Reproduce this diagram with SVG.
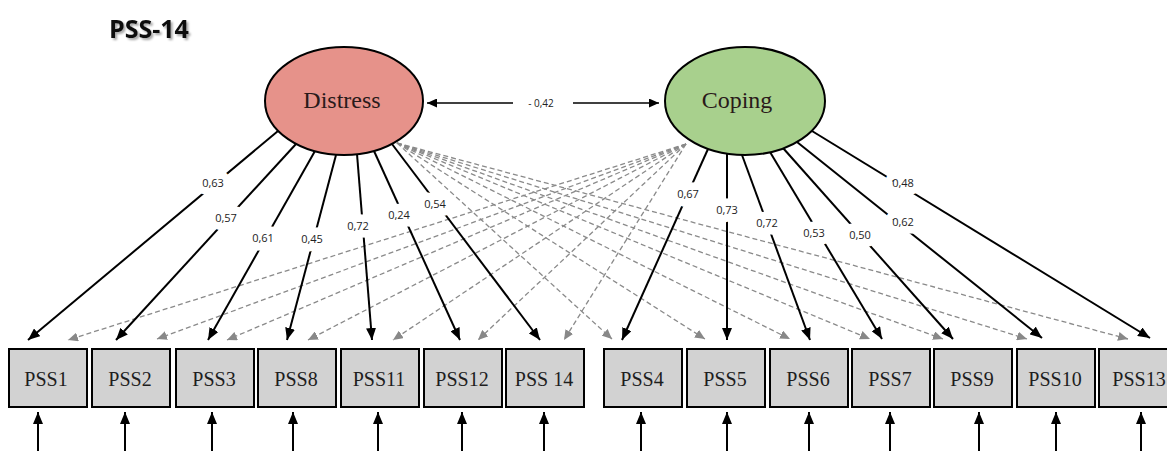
<svg xmlns="http://www.w3.org/2000/svg" width="1167" height="451" viewBox="0 0 1167 451">
  <defs>
    <marker id="ah" markerUnits="userSpaceOnUse" markerWidth="13" markerHeight="10" refX="12" refY="5" orient="auto">
      <path d="M0,0 L12,5 L0,10 z" fill="#000"/>
    </marker>
    <marker id="ahg" markerUnits="userSpaceOnUse" markerWidth="11" markerHeight="9" refX="10" refY="4.5" orient="auto">
      <path d="M0,0 L10,4.5 L0,9 z" fill="#888"/>
    </marker>
    <marker id="ahs" markerUnits="userSpaceOnUse" markerWidth="11" markerHeight="9" refX="10" refY="4.5" orient="auto">
      <path d="M0,0 L10,4.5 L0,9 z" fill="#000"/>
    </marker>
    <filter id="shadow" x="-20%" y="-30%" width="150%" height="170%">
      <feDropShadow dx="2" dy="2" stdDeviation="1" flood-color="#000" flood-opacity="0.35"/>
    </filter>
  </defs>
  <style>
    .load { stroke: #000; stroke-width: 2; fill: none; marker-end: url(#ah); }
    .cross { stroke: #8a8a8a; stroke-width: 1.3; stroke-dasharray: 5 3; fill: none; marker-end: url(#ahg); }
    .err { stroke: #000; stroke-width: 2; fill: none; marker-end: url(#ah); }
    .lbl { font-family: "Open Sans", "Liberation Sans", sans-serif; font-size: 11px; fill: #222; text-anchor: middle; stroke: #fff; stroke-width: 15; stroke-linejoin: round; paint-order: stroke; }
    .box rect { fill: #d2d2d2; stroke: #000; stroke-width: 2; }
    .box text { font-family: "Liberation Serif", "Times New Roman", serif; font-size: 20px; fill: #1e1e1e; text-anchor: middle; }
    .lat text { font-family: "Liberation Serif", "Times New Roman", serif; font-size: 24px; fill: #2a1a1a; text-anchor: middle; }
    .lat ellipse { stroke: #000; stroke-width: 2; }
  </style>

  <rect width="1167" height="451" fill="#fff"/>

  <text x="109" y="38" font-family="'Open Sans', 'Liberation Sans', sans-serif" font-weight="bold" font-size="25" fill="#111" filter="url(#shadow)">PSS-14</text>

  <!-- connectors -->
  <g id="connectors">
    <!-- cross loadings (dashed): Distress -> right items -->
    <path class="cross" d="M397,143 L612,339"/>
    <path class="cross" d="M397,143 L705,339"/>
    <path class="cross" d="M397,143 L790,339"/>
    <path class="cross" d="M397,143 L870,339"/>
    <path class="cross" d="M397,143 L943,339"/>
    <path class="cross" d="M397,143 L1027,339"/>
    <path class="cross" d="M397,143 L1128,339"/>
    <!-- cross loadings (dashed): Coping -> left items -->
    <path class="cross" d="M686,144 L68,340"/>
    <path class="cross" d="M686,144 L157,339"/>
    <path class="cross" d="M686,144 L227,340"/>
    <path class="cross" d="M686,144 L308,340"/>
    <path class="cross" d="M686,144 L393,340"/>
    <path class="cross" d="M686,144 L478,340"/>
    <path class="cross" d="M686,144 L564,340"/>

    <!-- Distress loadings -->
    <path class="load" d="M278,131 L28,340"/>
    <path class="load" d="M296,144 L116,340"/>
    <path class="load" d="M315,151 L208,340"/>
    <path class="load" d="M336,155 L287,340"/>
    <path class="load" d="M357,154 L372,340"/>
    <path class="load" d="M374,151 L460,340"/>
    <path class="load" d="M392,144 L540,340"/>

    <!-- Coping loadings -->
    <path class="load" d="M708,149 L622,340"/>
    <path class="load" d="M727,154 L727,340"/>
    <path class="load" d="M742,155 L810,340"/>
    <path class="load" d="M770,152 L882,339"/>
    <path class="load" d="M783,148 L953,339"/>
    <path class="load" d="M797,142 L1042,338"/>
    <path class="load" d="M812,131 L1150,338"/>

    <!-- covariance between the two factors -->
    <path d="M513,103 L427,103" stroke="#000" stroke-width="1.5" fill="none" marker-end="url(#ahs)"/>
    <path d="M573,103 L659,103" stroke="#000" stroke-width="1.5" fill="none" marker-end="url(#ahs)"/>
    <text x="541" y="103" dy="0.35em" font-family="'Open Sans', 'Liberation Sans', sans-serif" font-size="10" fill="#222" text-anchor="middle">- 0,42</text>

    <!-- loading labels -->
    <text class="lbl" x="213" y="183" dy="0.35em">0,63</text>
    <text class="lbl" x="226" y="218" dy="0.35em">0,57</text>
    <text class="lbl" x="263" y="238" dy="0.35em">0,61</text>
    <text class="lbl" x="312" y="239" dy="0.35em">0,45</text>
    <text class="lbl" x="358" y="226" dy="0.35em">0,72</text>
    <text class="lbl" x="399" y="215" dy="0.35em">0,24</text>
    <text class="lbl" x="435" y="204" dy="0.35em">0,54</text>
    <text class="lbl" x="688" y="194" dy="0.35em">0,67</text>
    <text class="lbl" x="727" y="210" dy="0.35em">0,73</text>
    <text class="lbl" x="767" y="223" dy="0.35em">0,72</text>
    <text class="lbl" x="814" y="233" dy="0.35em">0,53</text>
    <text class="lbl" x="860" y="235" dy="0.35em">0,50</text>
    <text class="lbl" x="903" y="222" dy="0.35em">0,62</text>
    <text class="lbl" x="903" y="183" dy="0.35em">0,48</text>

    <!-- error terms -->
    <path class="err" d="M38,451 L38,412"/>
    <path class="err" d="M125,451 L125,412"/>
    <path class="err" d="M212,451 L212,412"/>
    <path class="err" d="M293,451 L293,412"/>
    <path class="err" d="M378,451 L378,412"/>
    <path class="err" d="M462,451 L462,412"/>
    <path class="err" d="M544,451 L544,412"/>
    <path class="err" d="M641,451 L641,412"/>
    <path class="err" d="M727,451 L727,412"/>
    <path class="err" d="M809,451 L809,412"/>
    <path class="err" d="M890,451 L890,412"/>
    <path class="err" d="M979,451 L979,412"/>
    <path class="err" d="M1056,451 L1056,412"/>
    <path class="err" d="M1141,451 L1141,412"/>
  </g>

  <!-- latent factors -->
  <g id="distress" class="lat">
    <ellipse cx="344" cy="101" rx="79" ry="54" fill="#e6928a"/>
    <text x="342" y="108">Distress</text>
  </g>
  <g id="coping" class="lat">
    <ellipse cx="745" cy="101" rx="80" ry="54" fill="#a8d08d"/>
    <text x="737" y="108">Coping</text>
  </g>

  <!-- observed items -->
  <g id="pss1" class="box"><rect x="9" y="349" width="78" height="58"/><text x="46" y="386">PSS1</text></g>
  <g id="pss2" class="box"><rect x="92" y="349" width="78" height="58"/><text x="130" y="386">PSS2</text></g>
  <g id="pss3" class="box"><rect x="176" y="349" width="78" height="58"/><text x="214" y="386">PSS3</text></g>
  <g id="pss8" class="box"><rect x="258" y="349" width="78" height="58"/><text x="296" y="386">PSS8</text></g>
  <g id="pss11" class="box"><rect x="341" y="349" width="78" height="58"/><text x="379" y="386">PSS11</text></g>
  <g id="pss12" class="box"><rect x="424" y="349" width="78" height="58"/><text x="462" y="386">PSS12</text></g>
  <g id="pss14" class="box"><rect x="506" y="349" width="78" height="58"/><text x="544" y="386">PSS 14</text></g>
  <g id="pss4" class="box"><rect x="604" y="349" width="78" height="58"/><text x="642" y="386">PSS4</text></g>
  <g id="pss5" class="box"><rect x="687" y="349" width="78" height="58"/><text x="725" y="386">PSS5</text></g>
  <g id="pss6" class="box"><rect x="770" y="349" width="78" height="58"/><text x="808" y="386">PSS6</text></g>
  <g id="pss7" class="box"><rect x="852" y="349" width="78" height="58"/><text x="890" y="386">PSS7</text></g>
  <g id="pss9" class="box"><rect x="934" y="349" width="78" height="58"/><text x="972" y="386">PSS9</text></g>
  <g id="pss10" class="box"><rect x="1017" y="349" width="78" height="58"/><text x="1055" y="386">PSS10</text></g>
  <g id="pss13" class="box"><rect x="1099" y="349" width="78" height="58"/><text x="1139" y="386">PSS13</text></g>
</svg>
